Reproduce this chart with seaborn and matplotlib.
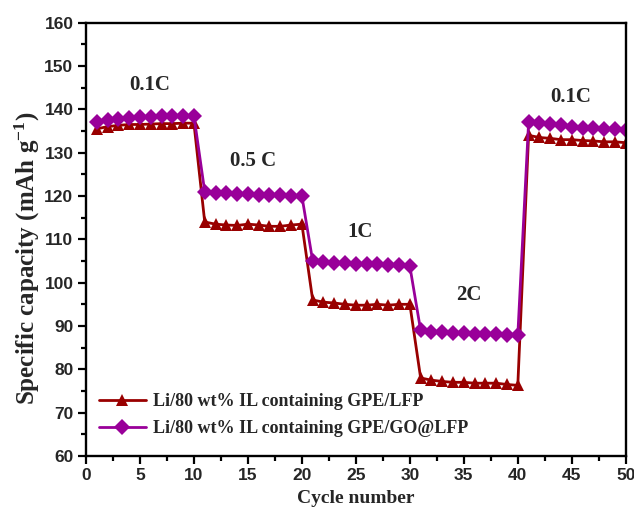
import matplotlib
matplotlib.use("Agg")
import matplotlib.pyplot as plt
import seaborn as sns
import pandas as pd
from matplotlib.ticker import MultipleLocator

cycles = list(range(1, 51))

lfp = [135.5, 136.0, 136.3, 136.5, 136.5, 136.6, 136.7, 136.7, 136.8, 136.8,
       114.0, 113.5, 113.3, 113.2, 113.5, 113.3, 113.0, 113.0, 113.3, 113.5,
       96.0, 95.5, 95.3, 95.0, 94.8, 94.8, 95.0, 94.8, 95.0, 95.0,
       78.0, 77.5, 77.2, 77.0, 77.0, 76.8, 76.8, 76.8, 76.5, 76.3,
       134.0, 133.5, 133.3, 133.0, 133.0, 132.8, 132.7, 132.5, 132.5, 132.3]

go_lfp = [137.0, 137.5, 137.8, 138.0, 138.2, 138.3, 138.4, 138.4, 138.4, 138.5,
          121.0, 120.8, 120.6, 120.5, 120.4, 120.3, 120.2, 120.2, 120.1, 120.0,
          105.0, 104.8, 104.6, 104.5, 104.4, 104.3, 104.2, 104.1, 104.0, 103.8,
          89.0, 88.7, 88.5, 88.4, 88.3, 88.2, 88.1, 88.1, 88.0, 87.9,
          137.0, 136.8, 136.5, 136.3, 136.0, 135.8, 135.7, 135.5, 135.4, 135.2]

names = ["Li/80 wt% IL containing GPE/LFP", "Li/80 wt% IL containing GPE/GO@LFP"]

rate_labels = ["0.1C", "0.5 C", "1C", "2C", "0.1C"]
rate_x = [5.9, 15.5, 25.4, 35.5, 44.9]
rate_y = [145.7, 128.0, 111.8, 97.2, 142.9]

df = pd.DataFrame({
    "cycle": cycles * 2,
    "capacity": lfp + go_lfp,
    "sample": [names[0]] * len(lfp) + [names[1]] * len(go_lfp),
})

sns.set_style("ticks")
serif = ["Liberation Serif", "DejaVu Serif"]
sans = ["Liberation Sans", "DejaVu Sans"]
plt.rcParams["mathtext.fontset"] = "custom"
plt.rcParams["mathtext.rm"] = "Liberation Serif:bold"
plt.rcParams["mathtext.it"] = "Liberation Serif:bold"
plt.rcParams["mathtext.bf"] = "Liberation Serif:bold"

fig = plt.figure(figsize=(6.34, 5.15), dpi=100)
ax = fig.add_axes([0.1356, 0.1146, 0.8514, 0.8414])

sns.lineplot(
    data=df, x="cycle", y="capacity", hue="sample", style="sample",
    palette={names[0]: "#990000", names[1]: "#990099"},
    markers={names[0]: "^", names[1]: "D"},
    dashes=False, markersize=8, markeredgewidth=0, linewidth=2,
    ax=ax,
)

ax.set_xlim(0, 50)
ax.set_ylim(60, 160)
ax.xaxis.set_major_locator(MultipleLocator(5))
ax.xaxis.set_minor_locator(MultipleLocator(2.5))
ax.yaxis.set_major_locator(MultipleLocator(10))
ax.yaxis.set_minor_locator(MultipleLocator(5))
ax.tick_params(which="major", direction="out", length=6, width=1.6, color="black",
               pad=3)
ax.tick_params(which="minor", direction="out", length=3.5, width=1.6, color="black")
for s in ax.spines.values():
    s.set_linewidth(1.7)
    s.set_color("black")

for lab in ax.get_xticklabels() + ax.get_yticklabels():
    lab.set_family(sans)
    lab.set_fontweight("bold")
    lab.set_fontsize(12.5)

ax.set_xlabel("Cycle number", family=serif, fontweight="bold", fontsize=14,
              labelpad=5)
ax.set_ylabel("Specific capacity (mAh g$^{-1}$)", family=serif, fontweight="bold",
              fontsize=18)
ax.yaxis.set_label_coords(-0.082, 0.457)

for t, x, y in zip(rate_labels, rate_x, rate_y):
    ax.text(x, y, t, ha="center", va="center", family=serif, fontweight="bold",
            fontsize=15)

leg = ax.legend(loc="lower left", bbox_to_anchor=(0.0, 0.015), frameon=False,
                prop={"family": serif, "weight": "bold", "size": 13},
                handlelength=2.6, handletextpad=0.4, labelspacing=0.55,
                borderaxespad=0.3)

fig.savefig("out.png", dpi=100)
